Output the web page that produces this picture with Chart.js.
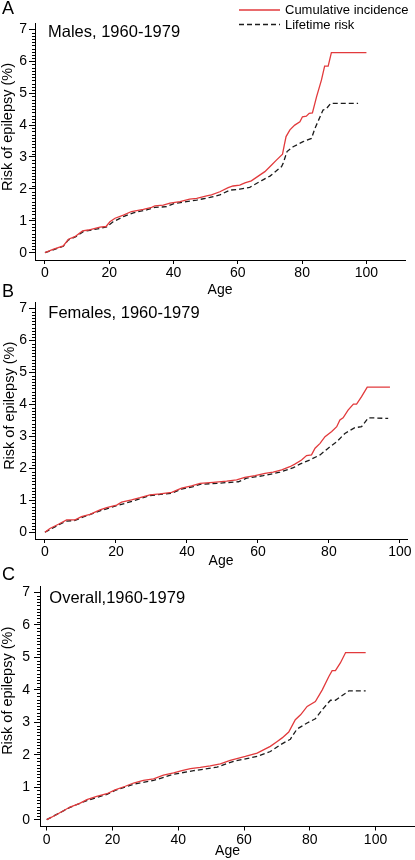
<!DOCTYPE html>
<html><head><meta charset="utf-8">
<script src="https://cdn.jsdelivr.net/npm/chart.js@4/dist/chart.umd.min.js"></script>
<style>
html,body{margin:0;padding:0;background:#fff;}
body{width:415px;height:860px;position:relative;overflow:hidden;}
canvas{position:absolute;left:0;}
</style></head><body>
<canvas id="cA" width="415" height="300" style="top:0px"></canvas>
<canvas id="cB" width="415" height="291" style="top:280px"></canvas>
<canvas id="cC" width="415" height="295" style="top:565px"></canvas>
<script>
// ---- data ----
const ageTicks = [0, 20, 40, 60, 80, 100];
const riskTicks = [0, 1, 2, 3, 4, 5, 6, 7];
const seriesNames = ["Cumulative incidence", "Lifetime risk"];
const panelLetters = ["A", "B", "C"];
const panelTitles = ["Males, 1960-1979", "Females, 1960-1979", "Overall,1960-1979"];
const xAxisTitle = "Age";
const yAxisTitle = "Risk of epilepsy (%)";

const malesCIAge = [0,2.5,5.7,7.3,9.3,11.7,13.5,17.1,19,20.2,21.8,24.4,26.9,30.6,33.2,34.2,36.8,38.9,42,45,47.2,50.3,51.8,54.4,57,58.5,60.6,62.2,64.2,66.8,68.4,70.5,72,73.9,74.4,75,76.2,77.7,79.3,80.1,81.3,82.2,83.2,84.5,86,87,88.1,89.1,100];
const malesCI    = [0,0.1,0.21,0.42,0.5,0.68,0.71,0.8,0.82,0.97,1.08,1.18,1.29,1.36,1.42,1.47,1.49,1.55,1.6,1.68,1.7,1.78,1.81,1.91,2.04,2.09,2.12,2.19,2.25,2.43,2.54,2.75,2.9,3.09,3.35,3.64,3.85,4.0,4.1,4.26,4.28,4.37,4.38,4.89,5.41,5.85,5.85,6.27,6.27];
const malesLRAge = [0,5.7,7.3,9.6,11.9,17.1,19.2,21.2,24.4,27.5,31.6,34.2,37.8,39.9,44,47.2,51.3,54.4,57.5,60.6,63.7,67.4,70,73.6,74.1,75.3,77.2,80.3,82.9,84,86.5,87.6,88.9,97.4];
const malesLR    = [0,0.2,0.4,0.5,0.66,0.76,0.81,0.97,1.13,1.25,1.34,1.42,1.44,1.53,1.6,1.65,1.73,1.81,1.96,1.99,2.05,2.26,2.4,2.7,2.8,3.17,3.32,3.48,3.58,3.9,4.47,4.52,4.68,4.68];

const femalesCIAge = [0,1.4,3.8,6.1,8.5,10.3,12.7,15.5,17.4,20.2,21.6,24.4,26.8,29.6,32.4,35.7,38.5,41.3,43.7,47.4,51.2,54,56.3,59.2,62,64.3,66.7,69,70.4,72.3,73.7,75.1,76.1,77.5,78.9,80.8,82.2,83.1,84,85.4,86.9,87.8,89.2,90.8,97.2];
const femalesCI    = [0,0.12,0.25,0.39,0.39,0.49,0.56,0.7,0.77,0.85,0.94,1.01,1.08,1.17,1.2,1.25,1.38,1.45,1.53,1.56,1.6,1.64,1.72,1.77,1.84,1.88,1.95,2.05,2.13,2.26,2.4,2.42,2.63,2.78,2.99,3.15,3.3,3.51,3.58,3.82,4.01,4.01,4.24,4.54,4.54];
const femalesLRAge = [0,3.8,6.1,8.5,10.8,15.5,20.2,24.9,29.6,35.7,38.5,41.8,43.7,48.4,54.5,56.8,61.5,66.2,70,71.8,74.6,77.5,79.8,82.2,84.5,87.3,89.2,91.1,96.7];
const femalesLR    = [0,0.23,0.35,0.37,0.48,0.67,0.83,0.98,1.15,1.22,1.35,1.43,1.5,1.53,1.58,1.69,1.77,1.88,2.02,2.13,2.26,2.42,2.63,2.83,3.09,3.27,3.3,3.58,3.56];

const overallCIAge = [0,2.5,7.1,10.2,12.2,15.2,18.3,20.8,23.9,26.4,29.4,32.5,35.5,38.6,41.1,43.7,46.7,49.7,52.8,55.8,58.4,60.4,64,66.5,68,70.1,71.6,73.6,75.6,77.2,79.2,81.7,83.8,85.8,86.8,87.8,89.3,90.9,97];
const overallCI    = [0,0.13,0.39,0.51,0.62,0.72,0.8,0.92,1.03,1.13,1.21,1.26,1.37,1.44,1.51,1.57,1.61,1.66,1.72,1.83,1.9,1.95,2.05,2.18,2.26,2.41,2.52,2.7,3.08,3.23,3.49,3.64,4.0,4.41,4.59,4.59,4.83,5.15,5.15];
const overallLRAge = [0,7.1,12.2,18.3,20.8,26.4,32.5,38.6,44.7,51.8,56.9,64,68,71.1,74.1,76.1,79.2,81.7,83.8,86.3,87.8,91.9,97];
const overallLR    = [0,0.38,0.59,0.78,0.9,1.09,1.21,1.4,1.51,1.62,1.8,1.95,2.1,2.31,2.48,2.79,2.98,3.11,3.39,3.68,3.68,3.97,3.97];

// ---- layout / style ----
const FONT = "'Liberation Sans', Arial, sans-serif";
const RED = "rgb(226,58,60)";
const BLACK = "#1c1c1c";
const pts = (xs, ys) => xs.map((x, i) => ({x: x, y: ys[i]}));

const panels = [
  {id:"cA", ci:pts(malesCIAge, malesCI), lr:pts(malesLRAge, malesLR), xmin:-3.1, xmax:112, ymin:-0.23, ymax:7.2,
   top:23, yW:35, xH:40, padR:10, tickPad:2, titlePadB:1, yTitle:[7.5,127], sub:[48,36.7], letter:[2,14], legend:true},
  {id:"cB", ci:pts(femalesCIAge, femalesCI), lr:pts(femalesLRAge, femalesLR), xmin:-2.8, xmax:102, ymin:-0.21, ymax:7.2,
   top:22, yW:35, xH:32, padR:8, tickPad:2, titlePadB:1, yTitle:[10,125.8], sub:[48.3,38.3], letter:[2,16.7], legend:false},
  {id:"cC", ci:pts(overallCIAge, overallCI), lr:pts(overallLRAge, overallLR), xmin:-2.04, xmax:112, ymin:-0.21, ymax:7.2,
   top:21, yW:40, xH:33.5, padR:0, tickPad:4, titlePadB:0, yTitle:[7.5,125.8], sub:[49.3,38.3], letter:[2,15], legend:false}
];

const decorPlugin = {
  id: "decor",
  afterDraw(chart) {
    const p = chart.options.plugins.decor;
    const ctx = chart.ctx;
    const y = chart.scales.y;
    ctx.save();
    // minor ticks on y axis
    ctx.strokeStyle = "#000";
    ctx.lineWidth = 1;
    ctx.beginPath();
    for (let k = 0; k <= 70; k++) {
      if (k % 10 === 0) continue;
      const py = Math.round(y.getPixelForValue(k / 10)) + 0.5;
      ctx.moveTo(y.right - 3, py);
      ctx.lineTo(y.right, py);
    }
    ctx.stroke();
    // y axis title
    ctx.fillStyle = "#000";
    ctx.font = "14.5px " + FONT;
    ctx.textAlign = "center";
    ctx.textBaseline = "middle";
    ctx.translate(p.yTitle[0], p.yTitle[1]);
    ctx.rotate(-Math.PI / 2);
    ctx.fillText(yAxisTitle, 0, 0);
    ctx.setTransform(1, 0, 0, 1, 0, 0);
    // panel subtitle
    ctx.textAlign = "left";
    ctx.textBaseline = "alphabetic";
    ctx.font = "16.5px " + FONT;
    ctx.fillText(p.sub[2], p.sub[0], p.sub[1]);
    // panel letter
    ctx.font = "18px " + FONT;
    ctx.fillText(p.letter[2], p.letter[0], p.letter[1]);
    // legend
    if (p.legend) {
      const ds = chart.data.datasets;
      const rows = [10, 24.5];
      ctx.font = "13px " + FONT;
      ctx.textBaseline = "middle";
      ds.forEach((d, i) => {
        ctx.beginPath();
        ctx.strokeStyle = d.borderColor;
        ctx.lineWidth = d.borderWidth;
        ctx.setLineDash(d.borderDash || []);
        ctx.moveTo(239, rows[i]);
        ctx.lineTo(280, rows[i]);
        ctx.stroke();
        ctx.setLineDash([]);
        ctx.fillStyle = "#000";
        ctx.fillText(d.label, 285, rows[i] + 0.5);
      });
    }
    ctx.restore();
  }
};

panels.forEach((p, idx) => {
  new Chart(document.getElementById(p.id), {
    type: "line",
    data: {
      datasets: [
        {label: seriesNames[0], data: p.ci, borderColor: RED, borderWidth: 1.3, pointRadius: 0, tension: 0, fill: false},
        {label: seriesNames[1], data: p.lr, borderColor: BLACK, borderWidth: 1.3, borderDash: [5, 3], pointRadius: 0, tension: 0, fill: false}
      ]
    },
    options: {
      responsive: false,
      animation: false,
      events: [],
      layout: {padding: {top: p.top, left: 0, right: p.padR, bottom: 0}},
      plugins: {
        legend: {display: false},
        tooltip: {enabled: false},
        decor: {yTitle: p.yTitle, sub: [p.sub[0], p.sub[1], panelTitles[idx]], letter: [p.letter[0], p.letter[1], panelLetters[idx]], legend: p.legend}
      },
      scales: {
        x: {
          type: "linear", min: p.xmin, max: p.xmax,
          afterBuildTicks: s => { s.ticks = ageTicks.map(v => ({value: v})); },
          afterFit: s => { s.height = p.xH; },
          ticks: {color: "#000", font: {family: FONT, size: 14}, padding: 1, maxRotation: 0, autoSkip: false},
          grid: {drawOnChartArea: false, drawTicks: true, tickLength: 4, color: "#000"},
          border: {display: true, color: "#000", width: 1},
          title: {display: true, text: xAxisTitle, color: "#000", font: {family: FONT, size: 14, lineHeight: 1.2}, padding: {top: 0, bottom: p.titlePadB}}
        },
        y: {
          type: "linear", min: p.ymin, max: p.ymax,
          afterBuildTicks: s => { s.ticks = riskTicks.map(v => ({value: v})); },
          afterFit: s => { s.width = p.yW; },
          ticks: {color: "#000", font: {family: FONT, size: 14}, padding: p.tickPad, autoSkip: false},
          grid: {drawOnChartArea: false, drawTicks: true, tickLength: 6, color: "#000"},
          border: {display: true, color: "#000", width: 1},
          title: {display: false}
        }
      }
    },
    plugins: [decorPlugin]
  });
});
</script>
</body></html>
